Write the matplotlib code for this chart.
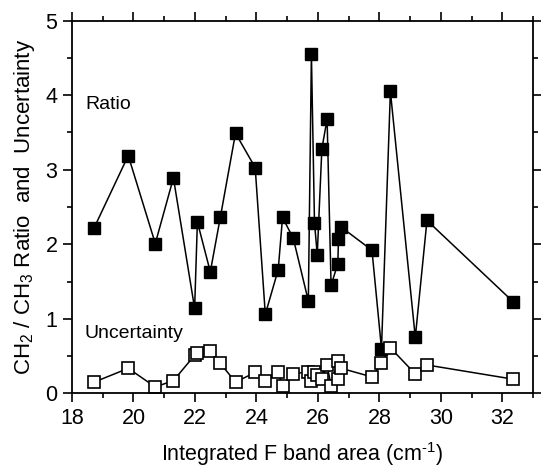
import matplotlib
matplotlib.use("Agg")
import matplotlib.pyplot as plt
from matplotlib.ticker import MultipleLocator

plt.rcParams['font.family'] = ['Liberation Sans', 'DejaVu Sans']
plt.rcParams['mathtext.fontset'] = 'custom'
plt.rcParams['mathtext.rm'] = 'Liberation Sans'

x_area = [18.72, 19.83, 20.71, 21.30, 21.99, 22.08, 22.50, 22.83, 23.32, 23.96,
          24.29, 24.71, 24.85, 25.20, 25.69, 25.79, 25.89, 25.98, 26.13, 26.30,
          26.43, 26.65, 26.67, 26.76, 27.76, 28.07, 28.36, 29.17, 29.55, 32.35]
ratio = [2.22, 3.19, 2.01, 2.89, 1.14, 2.30, 1.63, 2.37, 3.49, 3.03,
         1.06, 1.66, 2.36, 2.08, 1.24, 4.55, 2.29, 1.86, 3.28, 3.68,
         1.45, 1.74, 2.07, 2.23, 1.92, 0.60, 4.05, 0.75, 2.32, 1.23]
uncertainty = [0.15, 0.335, 0.085, 0.17, 0.51, 0.54, 0.57, 0.40, 0.15, 0.28,
               0.16, 0.28, 0.10, 0.26, 0.29, 0.165, 0.29, 0.24, 0.19, 0.38,
               0.10, 0.44, 0.19, 0.335, 0.22, 0.40, 0.61, 0.26, 0.38, 0.19]

fig = plt.figure(figsize=(5.41, 4.69), dpi=100)
ax = fig.add_axes([72/541, 1 - 393.3/469, (533-72)/541, (393.3-20.7)/469])

ax.plot(x_area, ratio, '-', color='black', lw=1.1, marker='s', ms=8,
        mfc='black', mec='black', mew=1)
ax.plot(x_area, uncertainty, '-', color='black', lw=1.1, marker='s', ms=8,
        mfc='white', mec='black', mew=1.2)

ax.set_xlim(18, 33)
ax.set_ylim(0, 5)
ax.xaxis.set_major_locator(MultipleLocator(2))
ax.xaxis.set_minor_locator(MultipleLocator(1))
ax.yaxis.set_major_locator(MultipleLocator(1))
ax.yaxis.set_minor_locator(MultipleLocator(0.5))
ax.tick_params(which='both', direction='out', top=True, right=True,
               labelsize=15.5, width=1.2)
ax.tick_params(which='major', length=6.5, pad=4)
ax.tick_params(which='minor', length=3.5)
for s in ax.spines.values():
    s.set_linewidth(1.3)

ax.text(18.45, 3.87, 'Ratio', fontsize=14, va='center', ha='left')
ax.text(18.40, 0.80, 'Uncertainty', fontsize=14, va='center', ha='left')

ax.set_xlabel(r'Integrated F band area (cm$^{\text{-}1}$)', fontsize=15.5, labelpad=8)
ax.set_ylabel('CH$_2$ / CH$_3$ Ratio  and  Uncertainty', fontsize=16, labelpad=6)

fig.savefig('out.png', dpi=100)
